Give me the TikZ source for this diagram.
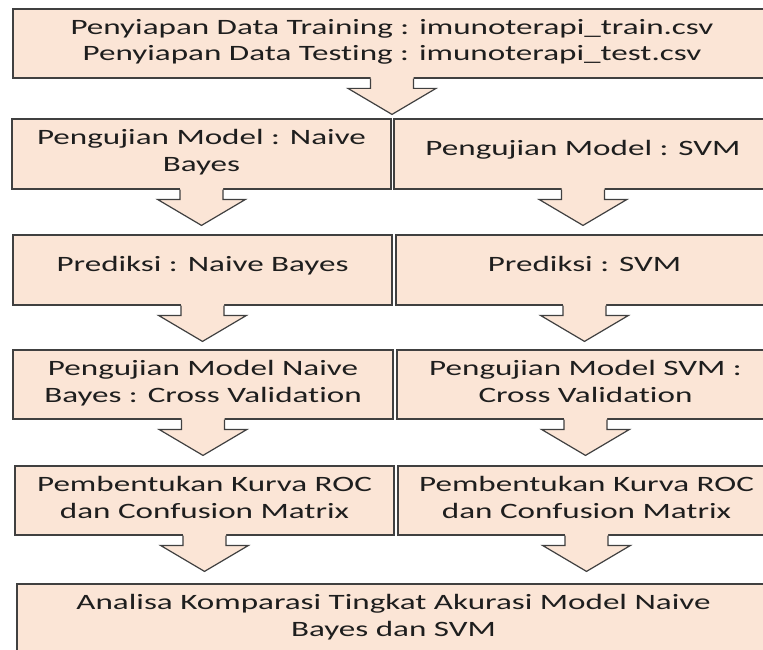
\documentclass[tikz,border=0pt]{standalone}
\usepackage{fontspec}
\setmainfont{Carlito}[FakeStretch=1.51, Ligatures=NoCommon]
\usetikzlibrary{calc}
\definecolor{boxfill}{HTML}{FBE5D6}
\definecolor{edge}{HTML}{404040}
\definecolor{ink}{HTML}{1E1E1E}
\tikzset{
  box/.style={draw=edge, line width=1.2bp, fill=boxfill, rectangle, inner sep=0pt,
    text=ink, align=center, font=\fontsize{22}{27}\selectfont},
  oneline/.style={text height=15bp, text depth=13bp},
  twoline/.style={text height=42bp, text depth=7bp},
  arrowfill/.style={fill=boxfill},
  arrowline/.style={draw=edge, line width=1.2bp, line join=miter},
}
\newcommand{\flowarrow}[3]{%
  \fill[arrowfill] let \p1=(#1.south), \p2=(#2.north) in
    (\x1-21.5bp,\y1+1.5bp) -- (\x1-21.5bp,\y2+#3bp+26bp) -- (\x1-44bp,\y2+#3bp+26bp)
    -- (\x1,\y2+#3bp) -- (\x1+44bp,\y2+#3bp+26bp) -- (\x1+21.5bp,\y2+#3bp+26bp)
    -- (\x1+21.5bp,\y1+1.5bp) -- cycle;
  \draw[arrowline] let \p1=(#1.south), \p2=(#2.north) in
    (\x1-21.5bp,\y1) -- (\x1-21.5bp,\y2+#3bp+26bp) -- (\x1-44bp,\y2+#3bp+26bp)
    -- (\x1,\y2+#3bp) -- (\x1+44bp,\y2+#3bp+26bp) -- (\x1+21.5bp,\y2+#3bp+26bp)
    -- (\x1+21.5bp,\y1);
}
\begin{document}
\begin{tikzpicture}[x=1bp,y=-1bp]
\useasboundingbox (0,0) rectangle (763,650);
\fill[white] (0,0) rectangle (763,650);
\node[box, twoline, minimum width=758bp, minimum height=69bp] (top) at (392,43.5)
  {Penyiapan Data Training : imunoterapi\_train.csv\\Penyiapan Data Testing : imunoterapi\_test.csv};
\node[box, twoline, minimum width=379bp, minimum height=70bp] (L2) at (201.5,154)
  {Pengujian Model : Naive\\Bayes};
\node[box, oneline, minimum width=378bp, minimum height=70bp] (R2) at (583,154)
  {Pengujian Model : SVM};
\node[box, oneline, minimum width=379bp, minimum height=70bp] (L3) at (202.5,270)
  {Prediksi : Naive Bayes};
\node[box, oneline, minimum width=377bp, minimum height=70bp] (R3) at (584.5,270)
  {Prediksi : SVM};
\node[box, twoline, minimum width=380bp, minimum height=69bp] (L4) at (203,384.5)
  {Pengujian Model Naive\\Bayes : Cross Validation};
\node[box, twoline, minimum width=377bp, minimum height=69bp] (R4) at (585.5,384.5)
  {Pengujian Model SVM :\\Cross Validation};
\node[box, twoline, minimum width=379bp, minimum height=69bp] (L5) at (204.5,500.5)
  {Pembentukan Kurva ROC\\dan Confusion Matrix};
\node[box, twoline, minimum width=377bp, minimum height=69bp] (R5) at (586.5,500.5)
  {Pembentukan Kurva ROC\\dan Confusion Matrix};
\node[box, text height=42bp, text depth=18bp, minimum width=753bp, minimum height=80bp] (fin) at (393.5,624)
  {Analisa Komparasi Tingkat Akurasi Model Naive\\Bayes dan SVM};
\flowarrow{top}{L2}{4}
\flowarrow{L2}{L3}{9}
\flowarrow{R2}{R3}{9}
\flowarrow{L3}{L4}{8}
\flowarrow{R3}{R4}{8}
\flowarrow{L4}{L5}{10}
\flowarrow{R4}{R5}{10}
\flowarrow{L5}{fin}{12}
\flowarrow{R5}{fin}{12}
\end{tikzpicture}
\end{document}
